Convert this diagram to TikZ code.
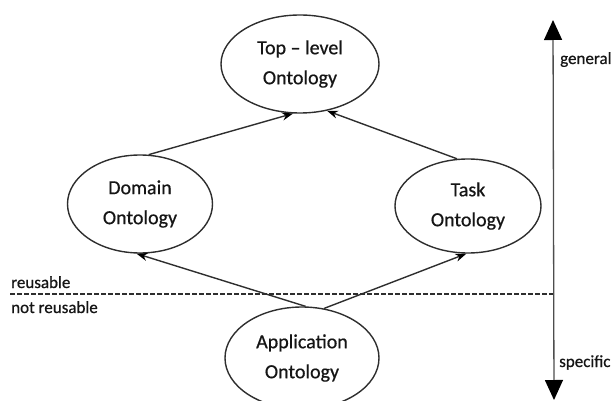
\documentclass[tikz,border=0pt]{standalone}
\usepackage{fontspec}
\setmainfont{Carlito}
\newfontfamily\heavy{Carlito}[FakeBold=0.6,Ligatures=TeX]
\usetikzlibrary{shapes.geometric,arrows.meta}
\definecolor{linegray}{HTML}{2E2E2E}
\definecolor{txt}{HTML}{151515}
\begin{document}
\begin{tikzpicture}[x=1pt,y=-1pt,
  onto/.style={ellipse,draw=linegray,line width=1.4pt,inner sep=0pt,align=center,
    font=\heavy\fontsize{20}{30}\selectfont,text=txt},
  link/.style={draw=linegray,line width=1.4pt,-{Stealth[length=11pt,width=8pt,black]}},
  side/.style={font=\heavy\fontsize{17}{20}\selectfont,text=txt,inner sep=0pt,anchor=base west}]
\useasboundingbox (0,0) rectangle (613,401);
\clip (0,0) rectangle (613,401);

\node[onto,minimum width=158pt,minimum height=98pt] (top) at (300,64) {Top – level\\Ontology};
\node[onto,minimum width=145pt,minimum height=98pt] (dom) at (140,204) {Domain\\Ontology};
\node[onto,minimum width=146pt,minimum height=94pt] (task) at (468,206) {Task\\Ontology};
\node[onto,minimum width=154pt,minimum height=102pt] (app) at (302,358) {Application\\Ontology};

\draw[link] (dom.80) -- (top.262);
\draw[link] (task.103) -- (top.300);
\draw[link] (app.86) -- (dom.266);
\draw[link] (app.66) -- (task.268);

\coordinate (gtop) at (553,20);
\coordinate (gbot) at (554,400);
\draw[draw=linegray!85,line width=1.3pt,{Triangle[length=20pt,width=18pt,black]}-{Triangle[length=20pt,width=18pt,black]}] (gtop) -- (gbot);

\coordinate (dl) at (10,294);
\coordinate (dr) at (553,294);
\draw[linegray,line width=1.2pt,dash pattern=on 4.5pt off 2.5pt] (dl) -- (dr);

\node[side] (gen) at (560,64) {general};
\node[side] (spec) at (559,367) {specific};
\node[side] (reu) at (11,288) {reusable};
\node[side] (nreu) at (11,313) {not reusable};
\end{tikzpicture}
\end{document}
